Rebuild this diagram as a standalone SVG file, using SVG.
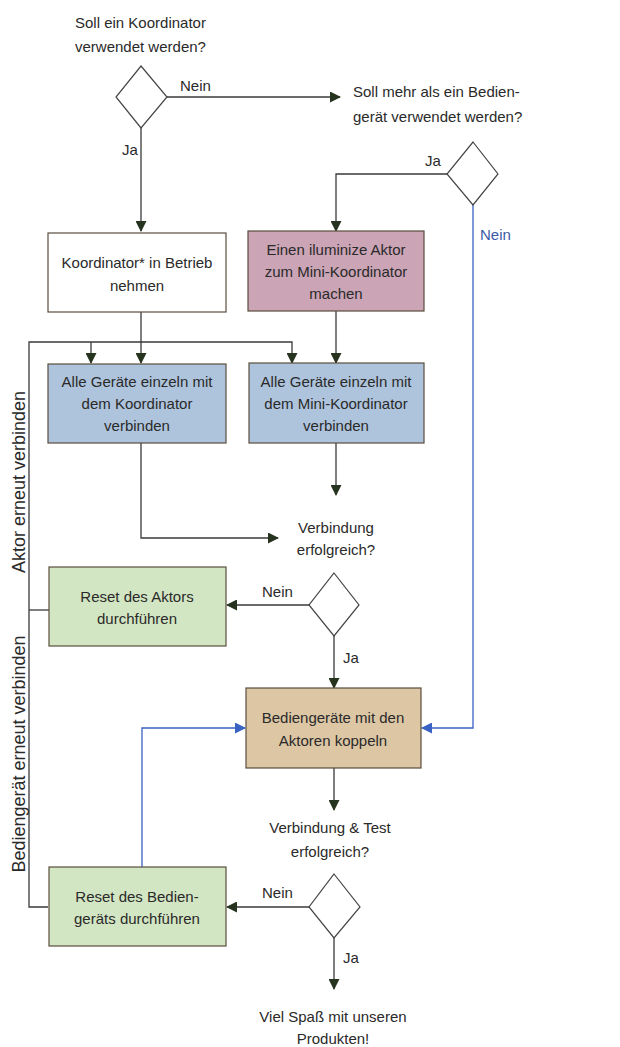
<svg xmlns="http://www.w3.org/2000/svg" width="620" height="1047" viewBox="0 0 620 1047">
<style>
text{font-family:"Liberation Sans",Arial,sans-serif;font-size:15px;fill:#2a2a2a}
.c{text-anchor:middle}
.v{font-size:18px}
.box{stroke:#5a4e3e;stroke-width:1.2}
.dia{fill:#fff;stroke:#444;stroke-width:1.2}
.ln{fill:none;stroke:#3a3a3a;stroke-width:1.3}
.bl{fill:none;stroke:#3a62c4;stroke-width:1.3}
</style>
<defs>
<marker id="ah" markerWidth="11" markerHeight="11" refX="10" refY="5.5" orient="auto" markerUnits="userSpaceOnUse">
<path d="M0,0 L11,5.5 L0,11 Z" fill="#26331e"/>
</marker>
<marker id="ahb" markerWidth="11" markerHeight="11" refX="10" refY="5.5" orient="auto" markerUnits="userSpaceOnUse">
<path d="M0,0 L11,5.5 L0,11 Z" fill="#3a62c4"/>
</marker>
</defs>
<rect width="620" height="1047" fill="#fff"/>

<g id="connectors">
<path class="ln" d="M167,97 H340" marker-end="url(#ah)"/>
<path class="ln" d="M141,128 V231" marker-end="url(#ah)"/>
<path class="ln" d="M447,174 H336 V231" marker-end="url(#ah)"/>
<path class="ln" d="M141,312 V363" marker-end="url(#ah)"/>
<path class="ln" d="M336,311 V363" marker-end="url(#ah)"/>
<path class="ln" d="M48,907 H29 V342 H292 V363" marker-end="url(#ah)"/>
<path class="ln" d="M91,342 V363" marker-end="url(#ah)"/>
<path class="ln" d="M49,610 H29"/>
<path class="ln" d="M141,443 V538 H278" marker-end="url(#ah)"/>
<path class="ln" d="M336,443 V495" marker-end="url(#ah)"/>
<path class="ln" d="M309,605 H227" marker-end="url(#ah)"/>
<path class="ln" d="M334,636 V688" marker-end="url(#ah)"/>
<path class="bl" d="M473,205 V728 H422" marker-end="url(#ahb)"/>
<path class="bl" d="M142,867 V728 H245" marker-end="url(#ahb)"/>
<path class="ln" d="M334,768 V810" marker-end="url(#ah)"/>
<path class="ln" d="M309,907 H227" marker-end="url(#ah)"/>
<path class="ln" d="M334,938 V989" marker-end="url(#ah)"/>
<text x="180" y="91">Nein</text>
<text x="122" y="155">Ja</text>
<text x="425" y="166">Ja</text>
<text x="480" y="240" style="fill:#3a5aa8">Nein</text>
<text x="262" y="597">Nein</text>
<text x="343" y="663">Ja</text>
<text x="262" y="898">Nein</text>
<text x="343" y="963">Ja</text>
<text class="c v" transform="translate(25,482) rotate(-90)">Aktor erneut verbinden</text>
<text class="c v" transform="translate(25,754) rotate(-90)">Bediengerät erneut verbinden</text>
</g>

<g id="q1">
<text x="75" y="28">Soll ein Koordinator</text>
<text x="75" y="52">verwendet werden?</text>
<polygon class="dia" points="141,66 167,97 141,128 116,97"/>
</g>

<g id="q2">
<text x="353" y="97">Soll mehr als ein Bedien-</text>
<text x="353" y="122">gerät verwendet werden?</text>
<polygon class="dia" points="473,142 498,174 473,205 447,174"/>
</g>

<g id="koordinator">
<rect class="box" x="48" y="233" width="178" height="79" fill="#fff"/>
<text class="c" x="137" y="268">Koordinator* in Betrieb</text>
<text class="c" x="137" y="291">nehmen</text>
</g>

<g id="minikoord">
<rect class="box" x="248" y="231" width="176" height="80" fill="#cba4b6"/>
<text class="c" x="336" y="255">Einen iluminize Aktor</text>
<text class="c" x="336" y="277">zum Mini-Koordinator</text>
<text class="c" x="336" y="299">machen</text>
</g>

<g id="verbinden1">
<rect class="box" x="48" y="364" width="178" height="79" fill="#aec4dc"/>
<text class="c" x="137" y="387">Alle Geräte einzeln mit</text>
<text class="c" x="137" y="409">dem Koordinator</text>
<text class="c" x="137" y="431">verbinden</text>
</g>

<g id="verbinden2">
<rect class="box" x="249" y="363" width="175" height="80" fill="#aec4dc"/>
<text class="c" x="336" y="387">Alle Geräte einzeln mit</text>
<text class="c" x="336" y="409">dem Mini-Koordinator</text>
<text class="c" x="336" y="431">verbinden</text>
</g>

<g id="q3">
<text class="c" x="336" y="533">Verbindung</text>
<text class="c" x="336" y="555">erfolgreich?</text>
<polygon class="dia" points="334,573 359,605 334,636 309,605"/>
</g>

<g id="resetaktor">
<rect class="box" x="49" y="567" width="177" height="79" fill="#d3e6c3"/>
<text class="c" x="137" y="602">Reset des Aktors</text>
<text class="c" x="137" y="624">durchführen</text>
</g>

<g id="koppeln">
<rect class="box" x="246" y="688" width="175" height="80" fill="#dcc6a4"/>
<text class="c" x="333" y="723">Bediengeräte mit den</text>
<text class="c" x="333" y="746">Aktoren koppeln</text>
</g>

<g id="q4">
<text class="c" x="330" y="833">Verbindung &amp; Test</text>
<text class="c" x="330" y="857">erfolgreich?</text>
<polygon class="dia" points="334,874 360,907 334,938 309,907"/>
</g>

<g id="resetbedien">
<rect class="box" x="49" y="867" width="177" height="79" fill="#d3e6c3"/>
<text class="c" x="137" y="902">Reset des Bedien-</text>
<text class="c" x="137" y="924">geräts durchführen</text>
</g>

<g id="ende">
<text class="c" x="333" y="1022">Viel Spaß mit unseren</text>
<text class="c" x="333" y="1044">Produkten!</text>
</g>
</svg>
